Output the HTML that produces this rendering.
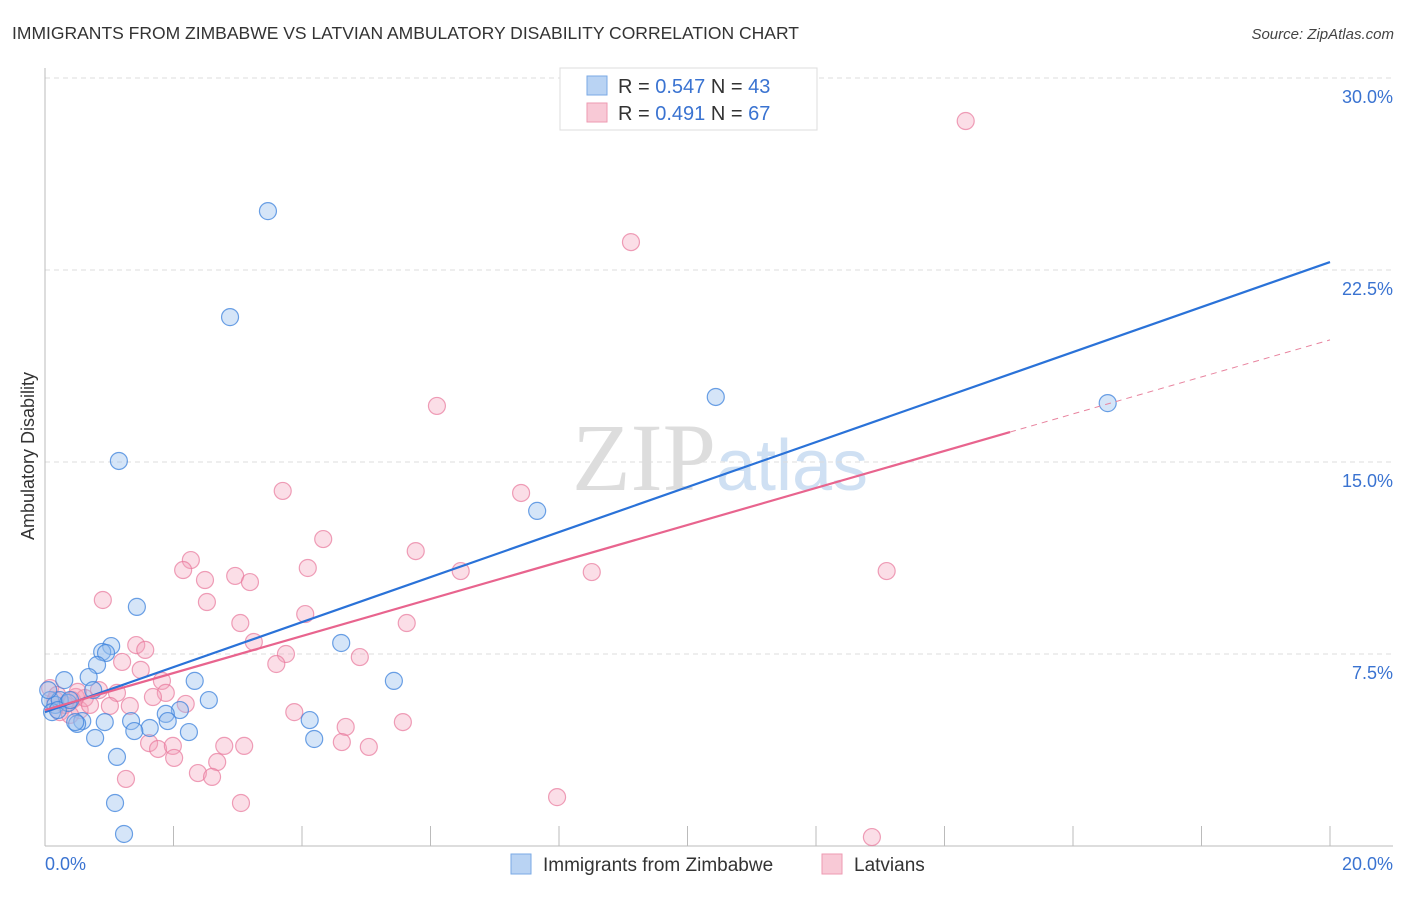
<!DOCTYPE html>
<html><head><meta charset="utf-8"><style>
body{margin:0;background:#fff;width:1406px;height:892px;overflow:hidden;font-family:"Liberation Sans",sans-serif}
</style></head><body>
<svg id="chart" width="1406" height="892" xmlns="http://www.w3.org/2000/svg" font-family="Liberation Sans, sans-serif">
<text x="12" y="39" font-size="17.5" fill="#333">IMMIGRANTS FROM ZIMBABWE VS LATVIAN AMBULATORY DISABILITY CORRELATION CHART</text>
<text x="1394" y="39" font-size="15" fill="#444" text-anchor="end" font-style="italic">Source: ZipAtlas.com</text>
<text x="720" y="490" font-size="96" text-anchor="middle" fill="#ddd" font-family="Liberation Serif, serif">ZIP<tspan fill="#cfe0f3" font-family="Liberation Sans, sans-serif" font-size="72">atlas</tspan></text>
<g id="grid"></g><g id="axes"></g><g id="pts"></g><g id="lines"></g>
<text transform="translate(34,456) rotate(-90)" font-size="18" fill="#333" text-anchor="middle">Ambulatory Disability</text>
<g>
<rect x="560" y="68" width="257" height="62" fill="#fff" stroke="#ddd"/>
<rect x="587" y="76" width="20" height="19" fill="#b9d3f3" stroke="#7aaae6"/>
<text x="618" y="93" font-size="20" fill="#333">R = <tspan fill="#3a73d1">0.547</tspan>   N = <tspan fill="#3a73d1">43</tspan></text>
<rect x="587" y="103" width="20" height="19" fill="#f8c9d6" stroke="#ee9ab2"/>
<text x="618" y="120" font-size="20" fill="#333">R =  <tspan fill="#3a73d1">0.491</tspan>   N = <tspan fill="#3a73d1">67</tspan></text>
</g>
<g>
<rect x="511" y="854" width="20" height="20" fill="#b9d3f3" stroke="#7aaae6"/>
<text x="543" y="871" font-size="19" fill="#333">Immigrants from Zimbabwe</text>
<rect x="822" y="854" width="20" height="20" fill="#f8c9d6" stroke="#ee9ab2"/>
<text x="854" y="871" font-size="19" fill="#333">Latvians</text>
</g>
</svg>
<script>
const yTicks=[7.5,15,22.5,30];
const yTickLabels=["7.5%","15.0%","22.5%","30.0%"];
const xTickLabels=["0.0%","20.0%"];
const blueX=[3.47,2.88,1.15,10.44,16.54,7.66,1.43,1.03,0.89,0.95,0.81,0.68,0.30,4.61,5.43,2.33,2.55,0.75,2.10,1.88,1.91,1.34,0.93,0.58,0.50,0.47,1.63,1.39,2.24,0.78,4.12,4.19,1.12,1.09,1.23,0.08,0.16,0.23,0.36,0.11,0.20,0.05,0.39];
const blueY=[24.8,20.66,15.04,17.54,17.30,13.09,9.34,7.81,7.58,7.54,7.07,6.60,6.48,7.93,6.45,6.45,5.70,6.09,5.31,5.16,4.88,4.88,4.84,4.88,4.77,4.84,4.61,4.49,4.45,4.22,4.92,4.18,3.48,1.68,0.47,5.70,5.51,5.70,5.59,5.23,5.31,6.09,5.70];
const pinkX=[14.33,9.12,6.10,7.41,3.70,4.33,5.77,2.27,2.15,4.09,6.47,8.51,13.10,2.96,3.19,2.49,0.90,2.52,4.05,3.04,5.63,3.25,1.42,1.56,3.75,4.90,1.20,3.60,1.49,1.82,0.84,1.12,1.88,1.68,0.48,2.19,1.32,1.01,3.88,5.57,4.68,1.62,1.76,1.99,2.01,2.79,3.10,4.62,5.04,2.68,2.38,2.60,1.26,3.05,7.97,12.87,0.08,0.16,0.23,0.31,0.42,0.54,0.62,0.70,0.19,0.39,0.51];
const pinkY=[28.32,23.59,17.19,13.79,13.87,11.99,11.52,11.17,10.78,10.86,10.74,10.70,10.74,10.55,10.31,10.39,9.61,9.53,9.06,8.71,8.71,7.97,7.85,7.66,7.50,7.38,7.19,7.11,6.88,6.45,6.09,5.98,5.98,5.82,5.82,5.55,5.47,5.47,5.23,4.84,4.65,4.02,3.79,3.91,3.44,3.91,3.91,4.06,3.87,3.28,2.85,2.70,2.62,1.68,1.91,0.35,6.17,5.70,5.23,5.51,5.70,5.31,5.78,5.51,5.90,5.12,6.02];
const blueLine=[5.23,22.81];
const pinkLine=[5.31,19.77];
const pinkSolidEnd=15.02;
const NS="http://www.w3.org/2000/svg";
const X=v=>45+v/20*1285, Y=v=>846-v*25.6;
function mk(tag,attrs,parent){const e=document.createElementNS(NS,tag);for(const k in attrs)e.setAttribute(k,attrs[k]);document.getElementById(parent).appendChild(e);return e;}
yTicks.forEach((t,i)=>{
 const g=mk('line',{x1:45,x2:1393,y1:Y(t),y2:Y(t),stroke:'#ddd','stroke-dasharray':'5,4'},'grid');
 
 
 const l=mk('text',{x:1393,y:Y(t)+25,'font-size':18,fill:'#3a73d1','text-anchor':'end'},'axes');
 l.textContent=yTickLabels[i];
 
 
});
const ax=mk('line',{x1:45,x2:1393,y1:846,y2:846,stroke:'#bbb'},'axes');


const ay=mk('line',{x1:45,x2:45,y1:68,y2:846,stroke:'#bbb'},'axes');


for(let i=1;i<=10;i++){const t=mk('line',{x1:X(i*2),x2:X(i*2),y1:826,y2:846,stroke:'#bbb'},'axes');
 
 }
[[0,'start',45],[20,'end',1393]].forEach((d,i)=>{const t=mk('text',{x:d[2],y:870,'font-size':18,fill:'#3a73d1','text-anchor':d[1]},'axes');t.textContent=xTickLabels[i];
 
 });
pinkX.forEach((x,i)=>{const c=mk('circle',{cx:X(x),cy:Y(pinkY[i]),r:8.5,fill:'rgba(244,160,186,0.35)',stroke:'rgba(232,120,155,0.7)','stroke-width':1.2},'pts');
 
 });
blueX.forEach((x,i)=>{const c=mk('circle',{cx:X(x),cy:Y(blueY[i]),r:8.5,fill:'rgba(150,190,238,0.4)',stroke:'rgba(60,130,220,0.75)','stroke-width':1.2},'pts');
 
 });
const bl=mk('line',{x1:X(0),y1:Y(blueLine[0]),x2:X(20),y2:Y(blueLine[1]),stroke:'#2a72d8','stroke-width':2.2},'lines');


const pAt=x=>pinkLine[0]+(pinkLine[1]-pinkLine[0])*x/20;
const pl=mk('line',{x1:X(0),y1:Y(pinkLine[0]),x2:X(pinkSolidEnd),y2:Y(pAt(pinkSolidEnd)),stroke:'#e8648e','stroke-width':2.2},'lines');


const pd=mk('line',{x1:X(pinkSolidEnd),y1:Y(pAt(pinkSolidEnd)),x2:X(20),y2:Y(pinkLine[1]),stroke:'#e8849f','stroke-width':1,'stroke-dasharray':'6,5'},'lines');


</script>
</body></html>
